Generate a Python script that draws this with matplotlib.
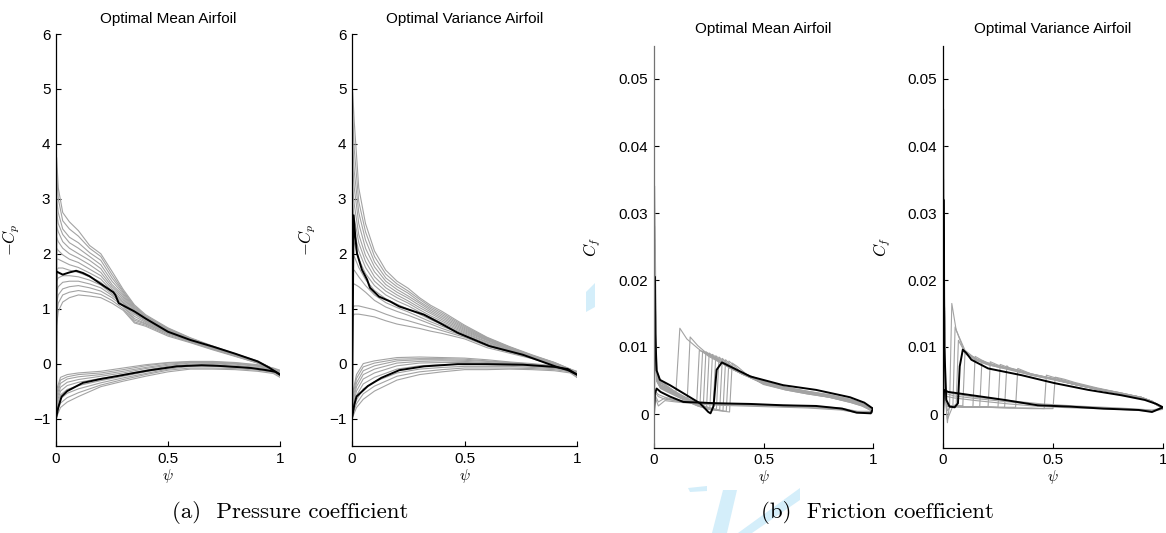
import matplotlib
matplotlib.use("Agg")
import matplotlib.pyplot as plt
from matplotlib.patches import Polygon

plt.rcParams['font.family'] = ['Liberation Sans', 'DejaVu Sans']
plt.rcParams['mathtext.fontset'] = 'cm'

W, H = 1166, 533
GREY = '0.64'
BLUE = '#d4eefa'

# ---------------- pressure coefficient, optimal mean airfoil ----------------
psi_cp_up = [0, 0.003, 0.01, 0.03, 0.06, 0.1, 0.15, 0.2, 0.25, 0.3, 0.35, 0.4,
             0.5, 0.6, 0.7, 0.8, 0.9, 0.97, 1.0]
cp_mean_up_grey = [
    [-1.0, 3.75, 3.2, 2.75, 2.58, 2.42, 2.15, 2.0, 1.68, 1.35, 1.07, 0.89, 0.65, 0.47, 0.32, 0.18, 0.05, -0.1, -0.2],
    [-1.0, 3.55, 3.0, 2.6, 2.45, 2.32, 2.1, 1.95, 1.62, 1.32, 1.05, 0.87, 0.64, 0.46, 0.31, 0.17, 0.04, -0.1, -0.2],
    [-1.0, 3.0, 2.75, 2.45, 2.3, 2.2, 2.02, 1.88, 1.56, 1.3, 1.03, 0.86, 0.63, 0.46, 0.31, 0.17, 0.04, -0.1, -0.2],
    [-1.0, 2.75, 2.55, 2.35, 2.2, 2.1, 1.95, 1.8, 1.5, 1.27, 1.01, 0.85, 0.62, 0.45, 0.3, 0.17, 0.04, -0.1, -0.2],
    [-1.0, 2.5, 2.4, 2.22, 2.1, 2.0, 1.88, 1.73, 1.44, 1.24, 0.99, 0.83, 0.61, 0.45, 0.3, 0.16, 0.03, -0.1, -0.2],
    [-1.0, 2.3, 2.22, 2.1, 2.0, 1.92, 1.8, 1.66, 1.4, 1.21, 0.97, 0.82, 0.6, 0.44, 0.29, 0.16, 0.03, -0.11, -0.2],
    [-1.0, 2.1, 2.06, 1.98, 1.9, 1.84, 1.72, 1.6, 1.36, 1.18, 0.95, 0.8, 0.59, 0.44, 0.29, 0.16, 0.03, -0.11, -0.2],
    [-1.0, 1.9, 1.9, 1.86, 1.8, 1.75, 1.65, 1.54, 1.32, 1.15, 0.92, 0.78, 0.58, 0.43, 0.29, 0.15, 0.03, -0.11, -0.21],
    [-1.0, 1.7, 1.74, 1.74, 1.7, 1.66, 1.58, 1.48, 1.3, 1.12, 0.9, 0.77, 0.57, 0.42, 0.28, 0.15, 0.02, -0.11, -0.21],
    [-1.0, 1.5, 1.56, 1.6, 1.6, 1.58, 1.52, 1.43, 1.27, 1.1, 0.86, 0.75, 0.56, 0.42, 0.28, 0.15, 0.02, -0.11, -0.21],
    [-1.0, 1.3, 1.4, 1.48, 1.5, 1.5, 1.45, 1.38, 1.24, 1.07, 0.82, 0.73, 0.55, 0.41, 0.27, 0.14, 0.02, -0.12, -0.21],
    [-1.0, 1.1, 1.25, 1.36, 1.4, 1.42, 1.38, 1.32, 1.2, 1.04, 0.79, 0.72, 0.54, 0.4, 0.27, 0.14, 0.02, -0.12, -0.22],
    [-1.0, 0.9, 1.1, 1.25, 1.3, 1.33, 1.3, 1.26, 1.15, 1.0, 0.76, 0.7, 0.52, 0.39, 0.26, 0.14, 0.01, -0.12, -0.22],
    [-1.0, 0.7, 0.95, 1.12, 1.2, 1.25, 1.23, 1.2, 1.1, 0.97, 0.74, 0.68, 0.5, 0.38, 0.25, 0.13, 0.01, -0.12, -0.22],
]
psi_cp_lo = [0, 0.005, 0.02, 0.05, 0.1, 0.2, 0.3, 0.4, 0.5, 0.6, 0.7, 0.8, 0.9, 0.97, 1.0]
cp_mean_lo_grey = [
    [-1, -0.45, -0.25, -0.2, -0.17, -0.14, -0.08, -0.02, 0.02, 0.04, 0.04, 0.02, -0.02, -0.08, -0.12],
    [-1, -0.52, -0.3, -0.24, -0.2, -0.17, -0.11, -0.04, 0.01, 0.03, 0.03, 0.01, -0.03, -0.09, -0.13],
    [-1, -0.58, -0.36, -0.28, -0.24, -0.2, -0.14, -0.07, -0.01, 0.02, 0.02, 0.0, -0.04, -0.1, -0.14],
    [-1, -0.64, -0.43, -0.34, -0.29, -0.23, -0.17, -0.09, -0.03, 0.01, 0.01, -0.01, -0.05, -0.11, -0.16],
    [-1, -0.7, -0.5, -0.4, -0.34, -0.27, -0.2, -0.12, -0.05, -0.01, 0.0, -0.03, -0.07, -0.12, -0.17],
    [-1, -0.76, -0.57, -0.47, -0.4, -0.31, -0.23, -0.15, -0.08, -0.03, -0.02, -0.05, -0.08, -0.13, -0.19],
    [-1, -0.82, -0.64, -0.54, -0.46, -0.35, -0.26, -0.18, -0.1, -0.05, -0.05, -0.07, -0.1, -0.15, -0.21],
    [-1, -0.88, -0.72, -0.62, -0.53, -0.39, -0.29, -0.2, -0.12, -0.08, -0.08, -0.09, -0.12, -0.16, -0.23],
    [-1, -0.95, -0.8, -0.7, -0.6, -0.42, -0.32, -0.23, -0.15, -0.1, -0.1, -0.11, -0.14, -0.18, -0.25],
]
cp_mean_up_psi = [0, 0.002, 0.01, 0.03, 0.06, 0.09, 0.12, 0.15, 0.2, 0.256, 0.265, 0.28,
                  0.35, 0.4, 0.5, 0.6, 0.7, 0.8, 0.9, 0.95, 1.0]
cp_mean_up = [-1.0, 1.68, 1.66, 1.62, 1.66, 1.69, 1.65, 1.59, 1.45, 1.3, 1.25, 1.1,
              0.95, 0.82, 0.58, 0.43, 0.31, 0.18, 0.04, -0.07, -0.2]
cp_mean_lo_psi = [0, 0.01, 0.025, 0.05, 0.12, 0.2, 0.27, 0.35, 0.42, 0.54, 0.65, 0.72,
                  0.8, 0.87, 0.94, 0.98, 1.0]
cp_mean_lo = [-1.0, -0.8, -0.6, -0.5, -0.35, -0.28, -0.23, -0.17, -0.12, -0.05, -0.03,
              -0.04, -0.06, -0.08, -0.12, -0.15, -0.2]

# -------------- pressure coefficient, optimal variance airfoil --------------
cp_var_up_grey = [
    [-1, 4.95, 4.4, 3.2, 2.55, 2.05, 1.7, 1.5, 1.37, 1.2, 1.06, 0.95, 0.7, 0.48, 0.31, 0.16, 0.02, -0.1, -0.22],
    [-1, 4.5, 3.9, 2.95, 2.4, 1.95, 1.63, 1.45, 1.32, 1.17, 1.03, 0.92, 0.68, 0.47, 0.3, 0.15, 0.02, -0.1, -0.22],
    [-1, 4.0, 3.5, 2.75, 2.25, 1.85, 1.56, 1.4, 1.28, 1.13, 1.0, 0.89, 0.66, 0.46, 0.3, 0.15, 0.01, -0.11, -0.22],
    [-1, 3.6, 3.2, 2.55, 2.1, 1.76, 1.5, 1.35, 1.23, 1.1, 0.97, 0.86, 0.64, 0.45, 0.29, 0.14, 0.01, -0.11, -0.22],
    [-1, 3.2, 2.9, 2.35, 1.97, 1.67, 1.44, 1.3, 1.19, 1.06, 0.94, 0.83, 0.62, 0.44, 0.28, 0.14, 0.0, -0.11, -0.23],
    [-1, 2.9, 2.65, 2.2, 1.86, 1.58, 1.38, 1.25, 1.14, 1.02, 0.91, 0.8, 0.6, 0.43, 0.28, 0.13, 0.0, -0.12, -0.23],
    [-1, 2.6, 2.4, 2.05, 1.75, 1.5, 1.32, 1.2, 1.1, 0.98, 0.87, 0.77, 0.58, 0.42, 0.27, 0.13, 0.0, -0.12, -0.23],
    [-1, 2.3, 2.2, 1.9, 1.64, 1.42, 1.25, 1.14, 1.05, 0.94, 0.84, 0.74, 0.56, 0.4, 0.26, 0.12, -0.01, -0.12, -0.23],
    [-1, 2.0, 1.95, 1.75, 1.53, 1.33, 1.18, 1.08, 0.99, 0.9, 0.8, 0.71, 0.54, 0.39, 0.25, 0.12, -0.01, -0.13, -0.24],
    [-1, 1.7, 1.7, 1.58, 1.42, 1.25, 1.11, 1.02, 0.94, 0.85, 0.76, 0.68, 0.52, 0.37, 0.24, 0.11, -0.02, -0.13, -0.24],
    [-1, 1.4, 1.45, 1.4, 1.3, 1.15, 1.03, 0.95, 0.88, 0.8, 0.72, 0.64, 0.5, 0.35, 0.23, 0.11, -0.02, -0.14, -0.24],
    [-1, 1.0, 1.05, 1.05, 1.02, 0.98, 0.9, 0.83, 0.78, 0.72, 0.66, 0.6, 0.48, 0.32, 0.21, 0.1, -0.03, -0.14, -0.25],
    [-1, 0.85, 0.9, 0.9, 0.88, 0.85, 0.78, 0.72, 0.68, 0.64, 0.59, 0.55, 0.45, 0.29, 0.19, 0.09, -0.03, -0.15, -0.25],
]
cp_var_lo_grey = [
    [-1, -0.5, -0.2, 0.0, 0.05, 0.11, 0.12, 0.11, 0.1, 0.07, 0.03, 0.0, -0.04, -0.1, -0.14],
    [-1, -0.56, -0.27, -0.06, 0.01, 0.08, 0.09, 0.09, 0.08, 0.05, 0.02, -0.01, -0.05, -0.1, -0.15],
    [-1, -0.62, -0.35, -0.13, -0.04, 0.05, 0.07, 0.07, 0.06, 0.04, 0.01, -0.02, -0.05, -0.11, -0.16],
    [-1, -0.68, -0.42, -0.2, -0.1, 0.01, 0.04, 0.05, 0.04, 0.02, 0.0, -0.03, -0.06, -0.12, -0.17],
    [-1, -0.74, -0.5, -0.28, -0.17, -0.04, 0.01, 0.02, 0.02, 0.01, -0.01, -0.04, -0.07, -0.12, -0.18],
    [-1, -0.8, -0.58, -0.37, -0.25, -0.1, -0.04, -0.02, -0.01, -0.02, -0.03, -0.05, -0.08, -0.13, -0.2],
    [-1, -0.86, -0.66, -0.46, -0.33, -0.17, -0.1, -0.07, -0.05, -0.05, -0.05, -0.07, -0.09, -0.14, -0.21],
    [-1, -0.9, -0.73, -0.55, -0.41, -0.23, -0.15, -0.11, -0.08, -0.08, -0.08, -0.09, -0.11, -0.15, -0.23],
    [-1, -0.95, -0.8, -0.65, -0.5, -0.3, -0.2, -0.15, -0.11, -0.11, -0.1, -0.11, -0.13, -0.17, -0.25],
]
cp_var_up_psi = [0, 0.007, 0.015, 0.022, 0.044, 0.067, 0.08, 0.12, 0.17, 0.21, 0.32, 0.39,
                 0.47, 0.54, 0.61, 0.76, 0.91, 0.96, 1.0]
cp_var_up = [-1, 2.7, 2.3, 2.01, 1.71, 1.53, 1.38, 1.22, 1.13, 1.04, 0.89, 0.74,
             0.56, 0.44, 0.32, 0.16, -0.06, -0.12, -0.2]
cp_var_lo_psi = [0, 0.01, 0.02, 0.07, 0.13, 0.21, 0.32, 0.47, 0.6, 0.76, 0.9, 0.96, 1.0]
cp_var_lo = [-1, -0.75, -0.6, -0.41, -0.26, -0.12, -0.05, -0.01, -0.01, -0.02, -0.06, -0.1, -0.2]

# --------------- friction coefficient, optimal mean airfoil ----------------
cf_mean_up_grey_psi = [
    [0, 0.003, 0.012, 0.03, 0.06, 0.1, 0.118, 0.15, 0.2, 0.25, 0.3, 0.35, 0.4, 0.5, 0.6, 0.7, 0.8, 0.9, 0.95, 1.0],
    [0, 0.003, 0.012, 0.03, 0.06, 0.1, 0.152, 0.165, 0.2, 0.25, 0.3, 0.35, 0.4, 0.5, 0.6, 0.7, 0.8, 0.9, 0.95, 1.0],
    [0, 0.003, 0.012, 0.03, 0.06, 0.1, 0.15, 0.195, 0.207, 0.25, 0.3, 0.35, 0.4, 0.5, 0.6, 0.7, 0.8, 0.9, 0.95, 1.0],
    [0, 0.003, 0.012, 0.03, 0.06, 0.1, 0.15, 0.21, 0.222, 0.25, 0.3, 0.35, 0.4, 0.5, 0.6, 0.7, 0.8, 0.9, 0.95, 1.0],
    [0, 0.003, 0.012, 0.03, 0.06, 0.1, 0.15, 0.2, 0.225, 0.237, 0.3, 0.35, 0.4, 0.5, 0.6, 0.7, 0.8, 0.9, 0.95, 1.0],
    [0, 0.003, 0.012, 0.03, 0.06, 0.1, 0.15, 0.2, 0.24, 0.252, 0.3, 0.35, 0.4, 0.5, 0.6, 0.7, 0.8, 0.9, 0.95, 1.0],
    [0, 0.003, 0.012, 0.03, 0.06, 0.1, 0.15, 0.2, 0.255, 0.267, 0.3, 0.35, 0.4, 0.5, 0.6, 0.7, 0.8, 0.9, 0.95, 1.0],
    [0, 0.003, 0.012, 0.03, 0.06, 0.1, 0.15, 0.2, 0.27, 0.282, 0.3, 0.35, 0.4, 0.5, 0.6, 0.7, 0.8, 0.9, 0.95, 1.0],
    [0, 0.003, 0.012, 0.03, 0.06, 0.1, 0.15, 0.2, 0.25, 0.285, 0.297, 0.35, 0.4, 0.5, 0.6, 0.7, 0.8, 0.9, 0.95, 1.0],
    [0, 0.003, 0.012, 0.03, 0.06, 0.1, 0.15, 0.2, 0.25, 0.3, 0.312, 0.35, 0.4, 0.5, 0.6, 0.7, 0.8, 0.9, 0.95, 1.0],
    [0, 0.003, 0.012, 0.03, 0.06, 0.1, 0.15, 0.2, 0.25, 0.315, 0.327, 0.35, 0.4, 0.5, 0.6, 0.7, 0.8, 0.9, 0.95, 1.0],
    [0, 0.003, 0.012, 0.03, 0.06, 0.1, 0.15, 0.2, 0.25, 0.33, 0.342, 0.36, 0.4, 0.5, 0.6, 0.7, 0.8, 0.9, 0.95, 1.0],
    [0, 0.003, 0.012, 0.03, 0.06, 0.1, 0.15, 0.2, 0.25, 0.345, 0.357, 0.38, 0.42, 0.5, 0.6, 0.7, 0.8, 0.9, 0.95, 1.0],
]
cf_mean_up_grey = [
    [0, 0.022, 0.0065, 0.005, 0.0042, 0.0032, 0.0128, 0.0112, 0.0098, 0.0086, 0.0077, 0.0069, 0.0062, 0.0049, 0.004, 0.0034, 0.0029, 0.0022, 0.0016, 0.0006],
    [0, 0.028, 0.0062, 0.0048, 0.004, 0.0031, 0.0023, 0.0115, 0.0102, 0.0088, 0.0078, 0.0069, 0.0062, 0.0049, 0.004, 0.0034, 0.0028, 0.0021, 0.0016, 0.0006],
    [0, 0.034, 0.006, 0.0047, 0.0041, 0.0033, 0.0024, 0.0017, 0.0095, 0.0088, 0.0078, 0.0068, 0.0061, 0.0048, 0.0039, 0.0033, 0.0028, 0.002, 0.0015, 0.0006],
    [0, 0.026, 0.0058, 0.0046, 0.004, 0.0032, 0.0023, 0.0014, 0.0094, 0.0089, 0.0078, 0.0068, 0.0061, 0.0048, 0.0039, 0.0033, 0.0028, 0.002, 0.0015, 0.0005],
    [0, 0.025, 0.0056, 0.0044, 0.0039, 0.0031, 0.0023, 0.0016, 0.0012, 0.0093, 0.0079, 0.0069, 0.0061, 0.0047, 0.0039, 0.0033, 0.0027, 0.002, 0.0015, 0.0005],
    [0, 0.024, 0.0055, 0.0043, 0.0038, 0.003, 0.0022, 0.0015, 0.001, 0.0091, 0.0079, 0.0068, 0.006, 0.0047, 0.0038, 0.0032, 0.0027, 0.0019, 0.0014, 0.0005],
    [0, 0.023, 0.0054, 0.0042, 0.0037, 0.003, 0.0022, 0.0015, 0.0009, 0.0089, 0.008, 0.0068, 0.006, 0.0046, 0.0038, 0.0032, 0.0027, 0.0019, 0.0014, 0.0005],
    [0, 0.022, 0.0053, 0.0042, 0.0036, 0.0029, 0.0021, 0.0014, 0.0008, 0.0087, 0.0082, 0.0069, 0.006, 0.0046, 0.0038, 0.0032, 0.0026, 0.0019, 0.0014, 0.0005],
    [0, 0.021, 0.0052, 0.0041, 0.0036, 0.0029, 0.0021, 0.0014, 0.0009, 0.0007, 0.0085, 0.007, 0.006, 0.0046, 0.0037, 0.0031, 0.0026, 0.0018, 0.0013, 0.0004],
    [0, 0.021, 0.0051, 0.004, 0.0035, 0.0028, 0.002, 0.0013, 0.0008, 0.0006, 0.0083, 0.0071, 0.006, 0.0045, 0.0037, 0.0031, 0.0026, 0.0018, 0.0013, 0.0004],
    [0, 0.02, 0.005, 0.0039, 0.0034, 0.0028, 0.002, 0.0013, 0.0008, 0.0005, 0.0081, 0.0073, 0.0061, 0.0045, 0.0037, 0.0031, 0.0025, 0.0018, 0.0013, 0.0004],
    [0, 0.02, 0.005, 0.0039, 0.0034, 0.0027, 0.0019, 0.0012, 0.0007, 0.0004, 0.0079, 0.0074, 0.0062, 0.0045, 0.0036, 0.003, 0.0025, 0.0017, 0.0012, 0.0004],
    [0, 0.02, 0.0049, 0.0038, 0.0033, 0.0027, 0.0019, 0.0012, 0.0007, 0.0003, 0.0076, 0.0071, 0.006, 0.0044, 0.0036, 0.003, 0.0025, 0.0017, 0.0012, 0.0004],
]
cf_mean_lo_grey_psi = [0, 0.005, 0.02, 0.05, 0.1, 0.2, 0.3, 0.5, 0.7, 0.85, 0.93, 1.0]
cf_mean_lo_grey = [
    [0, 0.0032, 0.0026, 0.0022, 0.002, 0.0017, 0.0015, 0.0013, 0.0011, 0.0008, 0.0003, 0.0003],
    [0, 0.0028, 0.0018, 0.0024, 0.0019, 0.0016, 0.0014, 0.0012, 0.001, 0.0007, 0.0002, 0.0003],
    [0, 0.0025, 0.0012, 0.002, 0.0018, 0.0015, 0.0013, 0.0011, 0.0009, 0.0006, 0.0002, 0.0002],
    [0, 0.0034, 0.0029, 0.0025, 0.0021, 0.0018, 0.0016, 0.0014, 0.0012, 0.0009, 0.0004, 0.0004],
]
cf_mean_up_psi = [0, 0.003, 0.006, 0.012, 0.027, 0.073, 0.134, 0.21, 0.248, 0.258, 0.272,
                  0.286, 0.31, 0.347, 0.44, 0.59, 0.74, 0.895, 0.96, 1.0]
cf_mean_up = [0, 0.0205, 0.012, 0.0065, 0.0051, 0.0043, 0.0031, 0.0016, 0.0003, 0.0001,
              0.0012, 0.0066, 0.0077, 0.0071, 0.0056, 0.0043, 0.0036, 0.0025, 0.0017, 0.0008]
cf_mean_lo_psi = [0, 0.004, 0.012, 0.03, 0.073, 0.134, 0.286, 0.44, 0.59, 0.74, 0.86,
                  0.925, 0.99, 1.0]
cf_mean_lo = [0, 0.003, 0.0038, 0.0033, 0.0026, 0.0018, 0.0016, 0.0015, 0.0013, 0.0012,
              0.0008, 0.0002, 0.0001, 0.0008]

# ------------- friction coefficient, optimal variance airfoil --------------
cf_var_up_grey_psi = [
    [0, 0.003, 0.01, 0.02, 0.03, 0.04, 0.06, 0.1, 0.15, 0.2, 0.25, 0.3, 0.35, 0.4, 0.5, 0.6, 0.7, 0.8, 0.9, 0.95, 1.0],
    [0, 0.003, 0.01, 0.02, 0.045, 0.055, 0.08, 0.1, 0.15, 0.2, 0.25, 0.3, 0.35, 0.4, 0.5, 0.6, 0.7, 0.8, 0.9, 0.95, 1.0],
    [0, 0.003, 0.01, 0.02, 0.035, 0.06, 0.07, 0.1, 0.15, 0.2, 0.25, 0.3, 0.35, 0.4, 0.5, 0.6, 0.7, 0.8, 0.9, 0.95, 1.0],
    [0, 0.003, 0.01, 0.02, 0.05, 0.09, 0.1, 0.15, 0.2, 0.25, 0.3, 0.35, 0.4, 0.5, 0.6, 0.7, 0.8, 0.9, 0.95, 1.0],
    [0, 0.003, 0.01, 0.02, 0.05, 0.1, 0.136, 0.146, 0.2, 0.25, 0.3, 0.35, 0.4, 0.5, 0.6, 0.7, 0.8, 0.9, 0.95, 1.0],
    [0, 0.003, 0.01, 0.02, 0.05, 0.1, 0.167, 0.177, 0.2, 0.25, 0.3, 0.35, 0.4, 0.5, 0.6, 0.7, 0.8, 0.9, 0.95, 1.0],
    [0, 0.003, 0.01, 0.02, 0.05, 0.1, 0.15, 0.205, 0.215, 0.25, 0.3, 0.35, 0.4, 0.5, 0.6, 0.7, 0.8, 0.9, 0.95, 1.0],
    [0, 0.003, 0.01, 0.02, 0.05, 0.1, 0.2, 0.25, 0.26, 0.3, 0.35, 0.4, 0.5, 0.6, 0.7, 0.8, 0.9, 0.95, 1.0],
    [0, 0.003, 0.01, 0.02, 0.05, 0.1, 0.2, 0.28, 0.29, 0.3, 0.35, 0.4, 0.5, 0.6, 0.7, 0.8, 0.9, 0.95, 1.0],
    [0, 0.003, 0.01, 0.02, 0.05, 0.1, 0.2, 0.3, 0.33, 0.34, 0.4, 0.5, 0.6, 0.7, 0.8, 0.9, 0.95, 1.0],
    [0, 0.003, 0.01, 0.02, 0.05, 0.1, 0.2, 0.3, 0.4, 0.46, 0.47, 0.5, 0.6, 0.7, 0.8, 0.9, 0.95, 1.0],
    [0, 0.003, 0.01, 0.02, 0.05, 0.1, 0.2, 0.3, 0.4, 0.5, 0.51, 0.55, 0.6, 0.7, 0.8, 0.9, 0.95, 1.0],
]
cf_var_up_grey = [
    [0, 0.0455, 0.003, -0.0013, 0.0015, 0.0165, 0.0125, 0.0095, 0.0082, 0.0075, 0.0071, 0.0068, 0.0064, 0.006, 0.0053, 0.0045, 0.0038, 0.0032, 0.0025, 0.0019, 0.0008],
    [0, 0.035, 0.003, -0.0008, 0.0012, 0.013, 0.0108, 0.009, 0.008, 0.0074, 0.007, 0.0067, 0.0063, 0.0059, 0.0052, 0.0044, 0.0037, 0.0031, 0.0025, 0.0018, 0.0008],
    [0, 0.03, 0.0028, 0.0005, 0.0011, 0.0014, 0.011, 0.0092, 0.0081, 0.0074, 0.007, 0.0066, 0.0062, 0.0058, 0.0052, 0.0044, 0.0037, 0.0031, 0.0024, 0.0018, 0.0008],
    [0, 0.03, 0.0026, 0.0012, 0.0012, 0.0012, 0.0092, 0.0083, 0.0076, 0.0071, 0.0068, 0.0063, 0.0059, 0.0052, 0.0045, 0.0038, 0.0032, 0.0025, 0.0019, 0.0009],
    [0, 0.03, 0.0025, 0.0013, 0.0012, 0.0011, 0.0011, 0.0086, 0.0076, 0.0071, 0.0068, 0.0064, 0.0059, 0.0052, 0.0044, 0.0037, 0.0031, 0.0024, 0.0018, 0.0008],
    [0, 0.03, 0.0025, 0.0013, 0.0012, 0.0011, 0.0011, 0.008, 0.0077, 0.0072, 0.0067, 0.0064, 0.0059, 0.0052, 0.0044, 0.0037, 0.0031, 0.0024, 0.0018, 0.0008],
    [0, 0.03, 0.0024, 0.0013, 0.0012, 0.0011, 0.0011, 0.0011, 0.0078, 0.0073, 0.0068, 0.0063, 0.0058, 0.0051, 0.0044, 0.0037, 0.0031, 0.0024, 0.0018, 0.0008],
    [0, 0.03, 0.0024, 0.0012, 0.0012, 0.0011, 0.0011, 0.001, 0.0074, 0.0069, 0.0065, 0.006, 0.0052, 0.0044, 0.0037, 0.0031, 0.0024, 0.0018, 0.0008],
    [0, 0.03, 0.0024, 0.0012, 0.0012, 0.0011, 0.001, 0.001, 0.0072, 0.0069, 0.0064, 0.0059, 0.0053, 0.0045, 0.0038, 0.0031, 0.0025, 0.0019, 0.0008],
    [0, 0.03, 0.0023, 0.0012, 0.0011, 0.001, 0.001, 0.001, 0.001, 0.0068, 0.006, 0.0053, 0.0045, 0.0038, 0.0031, 0.0025, 0.0019, 0.0009],
    [0, 0.03, 0.0023, 0.0012, 0.0011, 0.001, 0.001, 0.0009, 0.0009, 0.0008, 0.0058, 0.0055, 0.0046, 0.0038, 0.0031, 0.0025, 0.0019, 0.0009],
    [0, 0.03, 0.0023, 0.0012, 0.0011, 0.001, 0.001, 0.0009, 0.0008, 0.0008, 0.0055, 0.0052, 0.0047, 0.0039, 0.0032, 0.0025, 0.0019, 0.0009],
]
cf_var_lo_grey_psi = [0, 0.005, 0.02, 0.05, 0.15, 0.3, 0.45, 0.6, 0.8, 0.95, 1.0]
cf_var_lo_grey = [
    [0, 0.0032, 0.003, 0.0027, 0.0023, 0.0018, 0.0013, 0.0011, 0.0008, 0.0005, 0.0008],
    [0, 0.0028, 0.0026, 0.0024, 0.002, 0.0015, 0.0011, 0.0009, 0.0007, 0.0004, 0.0007],
    [0, 0.0036, 0.0033, 0.003, 0.0025, 0.002, 0.0015, 0.0012, 0.0009, 0.0006, 0.0009],
]
cf_var_up_psi = [0, 0.002, 0.006, 0.015, 0.03, 0.053, 0.068, 0.076, 0.09, 0.106, 0.129,
                 0.205, 0.356, 0.508, 0.66, 0.81, 0.917, 0.97, 1.0]
cf_var_up = [0, 0.032, 0.01, 0.0021, 0.0011, 0.001, 0.0016, 0.0071, 0.0096, 0.0091,
             0.0081, 0.0068, 0.0058, 0.0046, 0.0036, 0.0028, 0.0021, 0.0015, 0.001]
cf_var_lo_psi = [0, 0.005, 0.023, 0.13, 0.28, 0.43, 0.58, 0.73, 0.89, 0.95, 1.0]
cf_var_lo = [0, 0.0036, 0.0033, 0.0028, 0.0021, 0.0013, 0.0011, 0.0008, 0.0006, 0.0003, 0.001]

cp_ticks = [-1, 0, 1, 2, 3, 4, 5, 6]
cp_ticklabels = ['\u22121', '0', '1', '2', '3', '4', '5', '6']
cf_ticks = [0, 0.01, 0.02, 0.03, 0.04, 0.05]
cf_ticklabels = ['0', '0.01', '0.02', '0.03', '0.04', '0.05']
psi_ticks = [0, 0.5, 1]
psi_ticklabels = ['0', '0.5', '1']


fig = plt.figure(figsize=(W / 100, H / 100), dpi=100)


def px_axes(x0, y0, x1, y1):
    return fig.add_axes([x0 / W, 1 - y1 / H, (x1 - x0) / W, (y1 - y0) / H])


def style(ax, title, ylabel, yticks, yticklabels, ylim, label_x, title_pad):
    for s in ('top', 'right'):
        ax.spines[s].set_visible(False)
    for s in ('left', 'bottom'):
        ax.spines[s].set_linewidth(0.9)
    ax.set_xlim(0, 1)
    ax.set_ylim(*ylim)
    ax.set_xticks(psi_ticks)
    ax.set_xticklabels(psi_ticklabels)
    ax.set_yticks(yticks)
    ax.set_yticklabels(yticklabels)
    ax.tick_params(direction='in', length=3.5, width=0.8, labelsize=11, pad=4)
    ax.set_xlabel(r'$\psi$', fontsize=11, labelpad=1)
    ax.set_ylabel(ylabel, fontsize=12)
    ax.yaxis.set_label_coords(label_x, 0.5)
    ax.set_title(title, fontsize=11, pad=title_pad)


def draw_group(ax, xs, curves, **kw):
    for ys in curves:
        ax.plot(xs, ys, color=GREY, lw=0.8, **kw)


ax1 = px_axes(56, 34, 280, 446)
draw_group(ax1, psi_cp_up, cp_mean_up_grey)
draw_group(ax1, psi_cp_lo, cp_mean_lo_grey)
ax1.plot(cp_mean_up_psi, cp_mean_up, color='k', lw=1.4)
ax1.plot(cp_mean_lo_psi, cp_mean_lo, color='k', lw=1.4)
style(ax1, 'Optimal Mean Airfoil', r'$-C_p$', cp_ticks, cp_ticklabels, (-1.5, 6), -0.152, 8)

ax2 = px_axes(352, 34, 577, 446)
draw_group(ax2, psi_cp_up, cp_var_up_grey)
draw_group(ax2, psi_cp_lo, cp_var_lo_grey)
ax2.plot(cp_var_up_psi, cp_var_up, color='k', lw=1.4)
ax2.plot(cp_var_lo_psi, cp_var_lo, color='k', lw=1.4)
style(ax2, 'Optimal Variance Airfoil', r'$-C_p$', cp_ticks, cp_ticklabels, (-1.5, 6), -0.151, 8)

ax3 = px_axes(654, 45.5, 873, 447.5)
for xs, ys in zip(cf_mean_up_grey_psi, cf_mean_up_grey):
    ax3.plot(xs, ys, color=GREY, lw=0.8)
draw_group(ax3, cf_mean_lo_grey_psi, cf_mean_lo_grey)
ax3.plot(cf_mean_up_psi, cf_mean_up, color='k', lw=1.4)
ax3.plot(cf_mean_lo_psi, cf_mean_lo, color='k', lw=1.4)
style(ax3, 'Optimal Mean Airfoil', r'$C_f$', cf_ticks, cf_ticklabels, (-0.005, 0.055), -0.233, 9)
ax3.spines['left'].set_color('0.45')

ax4 = px_axes(943, 45.5, 1163, 447.5)
for xs, ys in zip(cf_var_up_grey_psi, cf_var_up_grey):
    ax4.plot(xs, ys, color=GREY, lw=0.8)
draw_group(ax4, cf_var_lo_grey_psi, cf_var_lo_grey)
ax4.plot(cf_var_up_psi, cf_var_up, color='k', lw=1.4)
ax4.plot(cf_var_lo_psi, cf_var_lo, color='k', lw=1.4)
style(ax4, 'Optimal Variance Airfoil', r'$C_f$', cf_ticks, cf_ticklabels, (-0.005, 0.055), -0.227, 9)

for ax in (ax1, ax2, ax3, ax4):
    ax.patch.set_alpha(0)

# pale blue marks printed behind the right-hand panels
blue_shapes = [
    [(586, 292), (595, 283), (595, 307), (586, 312)],
    [(688, 488), (707, 486), (707, 491), (690, 492)],
    [(723, 490), (737, 490), (727, 533), (712, 533)],
    [(738, 533), (752, 533), (800, 500), (800, 488)],
]
for pts in blue_shapes:
    fig.patches.append(Polygon([(x / W, 1 - y / H) for x, y in pts], closed=True,
                               transform=fig.transFigure, facecolor=BLUE,
                               edgecolor='none', zorder=-5))

fig.text(290 / W, 1 - 513 / H, '(a)  Pressure coefficient', fontfamily='cmr10',
         fontsize=16.5, ha='center', va='center')
fig.text(877 / W, 1 - 513 / H, '(b)  Friction coefficient', fontfamily='cmr10',
         fontsize=16.5, ha='center', va='center')

fig.savefig('out.png', dpi=100)
